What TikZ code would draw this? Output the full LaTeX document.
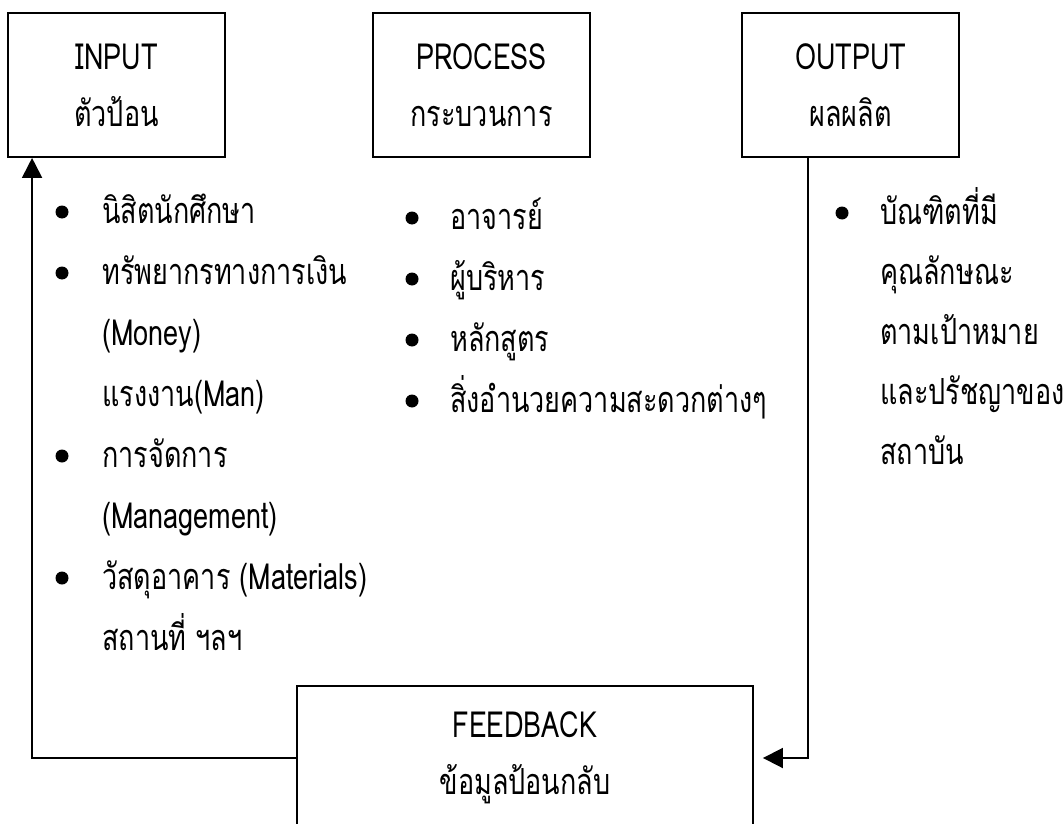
\documentclass[tikz,border=0pt]{standalone}
\usepackage{fontspec}
\setmainfont[Script=Thai,FakeStretch=0.75]{Loma}
\usetikzlibrary{arrows.meta}

\begin{document}
\begin{tikzpicture}[x=0.75pt,y=-0.75pt]
    \tikzset{
        stage/.style={draw,line width=1.4pt,minimum width=162.75pt,minimum height=108pt,
            align=center,font=\fontsize{27pt}{42.75pt}\selectfont},
        item/.style={anchor=base west,inner sep=0pt,font=\fontsize{27pt}{30pt}\selectfont},
        dot/.style={circle,fill,inner sep=0pt,minimum size=9.75pt},
        flow/.style={line width=1.4pt,-{Triangle[length=15pt,width=15pt]}},}
    \useasboundingbox (0,0) rectangle (1064,824);
    % the three stages
    \node[stage] (in) at (116.5,85) {INPUT\\ตัวป้อน};
    \node[stage] (proc) at (481.5,85) {PROCESS\\กระบวนการ};
    \node[stage] (out) at (850.5,85) {OUTPUT\\ผลผลิต};
    \node[stage,minimum width=342pt] (fb) at (525,758) {FEEDBACK\\ข้อมูลป้อนกลับ};
    % lists
    \foreach \txt [count=\i] in {นิสิตนักศึกษา,ทรัพยากรทางการเงิน,{(Money)},{แรงงาน(Man)},การจัดการ,{(Management)},{วัสดุอาคาร (Materials)},สถานที่ ฯลฯ}
        \node[item] (inl\i) at (102,{223+61*(\i-1)}) {\txt};
    \foreach \i in {1,2,5,7}
        \node[dot] (indot\i) at (62,{212+61*(\i-1)}) {};
    \foreach \txt [count=\i] in {อาจารย์,ผู้บริหาร,หลักสูตร,สิ่งอำนวยความสะดวกต่างๆ}{
        \node[item] (procl\i) at (450,{229+61*(\i-1)}) {\txt};
        \node[dot] (procdot\i) at (412,{218+61*(\i-1)}) {};}
    \foreach \txt [count=\i] in {บัณฑิตที่มี,คุณลักษณะ,ตามเป้าหมาย,และปรัชญาของ,สถาบัน}
        \node[item] (outl\i) at (880,{224+60*(\i-1)}) {\txt};
    \node[dot] (outdot1) at (842,213) {};
    % loop back
    \draw[flow] ([xshift=50.25pt]out.south west) |- ([xshift=6.75pt]fb.east);
    \draw[flow] (fb.west) -| ([xshift=18.75pt]in.south west);
\end{tikzpicture}
\end{document}
